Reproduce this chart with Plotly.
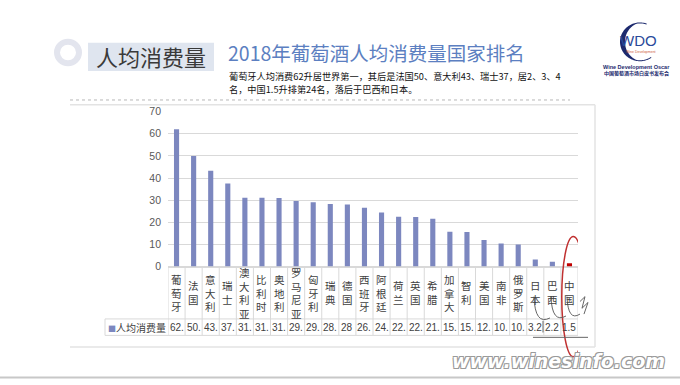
import numpy as np
import plotly.graph_objects as go

# ---------------- data ----------------
countries = ["葡萄牙", "法国", "意大利", "瑞士", "澳大利亚", "比利时", "奥地利", "罗马尼亚",
             "匈牙利", "瑞典", "德国", "西班牙", "阿根廷", "荷兰", "英国", "希腊",
             "加拿大", "智利", "美国", "南非", "俄罗斯", "日本", "巴西", "中国"]
consumption = [62.0, 50.0, 43.3, 37.5, 31.1, 31.1, 31.0, 29.6, 29.1, 28.3, 28.0, 26.6,
               24.4, 22.5, 22.4, 21.6, 15.7, 15.6, 12.0, 10.4, 10.0, 3.2, 2.2, 1.5]
table_labels = ["62.", "50.", "43.", "37.", "31.", "31.", "31.", "29.", "29.", "28.", "28", "26.",
                "24.", "22.", "22.", "21.", "15.", "15.", "12.", "10.", "10.", "3.2", "2.2", "1.5"]
y_ticks = [0, 10, 20, 30, 40, 50, 60, 70]
series_name = "人均消费量"
highlight = "中国"
title_tag = "人均消费量"
title_text = "2018年葡萄酒人均消费量国家排名"
subtitle_lines = ["葡萄牙人均消费62升居世界第一，其后是法国50、意大利43、瑞士37，居2、3、4",
                  "名，中国1.5升排第24名，落后于巴西和日本。"]

# ---------------- helpers ----------------
W, H = 680, 385
CJK = "Noto Sans CJK SC"
LAT = "Liberation Sans"
BAR = "#7C87BF"
GRID = "#d9d9d9"


def px(x):
    return x / W


def py(y):
    return 1 - y / H


def note(x, y, text, size, color, family=CJK, xanchor="center", yanchor="middle", **kw):
    return dict(x=px(x), y=py(y), xref="paper", yref="paper", showarrow=False, text=text,
                xanchor=xanchor, yanchor=yanchor,
                font=dict(family=family, size=size, color=color, **kw))


fig = go.Figure()
fig.add_trace(go.Bar(
    x=countries, y=consumption, name=series_name, width=0.3,
    marker=dict(color=["#C00000" if c == highlight else BAR for c in countries], line=dict(width=0)),
    hoverinfo="x+y",
))

shapes = []
annotations = []

# category labels (vertical stacked characters) and data-table values
for i, c in enumerate(countries):
    annotations.append(dict(x=c, xref="x", y=py(296), yref="paper", text="<br>".join(c),
                            showarrow=False, yanchor="middle", xanchor="center",
                            font=dict(family=CJK, size=10.5, color="#404040")))
    annotations.append(dict(x=c, xref="x", y=py(331.5), yref="paper", text=table_labels[i],
                            showarrow=False, yanchor="middle", xanchor="center",
                            font=dict(family=LAT, size=10, color="#404040")))

# data-table grid
for i in range(len(countries) + 1):
    shapes.append(dict(type="line", xref="x", yref="paper", x0=i - 0.5, x1=i - 0.5,
                       y0=py(269), y1=py(340), line=dict(color=GRID, width=1)))
for yy in (323, 340):
    shapes.append(dict(type="line", xref="paper", yref="paper", x0=px(105), x1=px(578),
                       y0=py(yy), y1=py(yy), line=dict(color=GRID, width=1)))
shapes.append(dict(type="line", xref="paper", yref="paper", x0=px(105), x1=px(105),
                   y0=py(323), y1=py(340), line=dict(color=GRID, width=1)))
annotations.append(note(106, 331.5, f"<span style='color:{BAR};font-size:8px'>■</span>{series_name}",
                        10, "#404040", xanchor="left"))

# chart frame
for (x0, y0, x1, y1) in [(70, 102, 595, 102), (595, 102, 595, 352), (70, 352, 595, 352)]:
    shapes.append(dict(type="line", xref="paper", yref="paper", x0=px(x0), x1=px(x1),
                       y0=py(y0), y1=py(y1), line=dict(color="#e3e3e3", width=1.5)))
# slide bottom edge
shapes.append(dict(type="line", xref="paper", yref="paper", x0=0, x1=1, y0=py(383.5), y1=py(383.5),
                   line=dict(color="#c8c8c8", width=2)))
# dotted separator
shapes.append(dict(type="line", xref="paper", yref="paper", x0=px(70), x1=px(570),
                   y0=py(97), y1=py(97), line=dict(color="#b8b8b8", width=1, dash="dot")))

# ring ornament + tag box
shapes.append(dict(type="circle", xref="paper", yref="paper", x0=px(57), x1=px(79),
                   y0=py(59), y1=py(37), line=dict(color="#e3e5ee", width=6)))
shapes.append(dict(type="rect", xref="paper", yref="paper", x0=px(88), x1=px(214),
                   y0=py(67), y1=py(38), fillcolor="#dfe5ef", line=dict(width=0)))
annotations.append(note(151, 52, title_tag, 22, "#3a3a3a"))
annotations.append(note(226, 48, title_text, 19.5, "#5C7FC1", xanchor="left"))
annotations.append(note(227, 72, subtitle_lines[0], 9.2, "#111111", xanchor="left"))
annotations.append(note(227, 85.5, subtitle_lines[1], 9.2, "#111111", xanchor="left"))

# WDO logo (decorative)
cx, cy = 640, 37
ang = np.linspace(np.deg2rad(70), np.deg2rad(305), 80)
outer = [(cx + 20 * np.cos(a), cy - 20 * np.sin(a)) for a in ang]
inner_r = 20 - 5.0 * np.clip(-np.cos(ang), 0.2, 1)
inner = [(cx + r * np.cos(a), cy - r * np.sin(a)) for a, r in zip(ang[::-1], inner_r[::-1])]
pts = outer + inner
path = "M " + " L ".join(f"{px(x):.5f},{py(y):.5f}" for x, y in pts) + " Z"
shapes.append(dict(type="path", xref="paper", yref="paper", path=path,
                   fillcolor="#1d2a6e", line=dict(width=0)))
annotations.append(note(638, 35.5, "WDO", 15, "#2a4a9a", family=LAT))
annotations.append(note(641, 47.5, "Wine Development", 3.5, "#d0603a", family=LAT))
annotations.append(note(636, 63, "<b>Wine Development Oscar</b>", 5.5, "#1d2a6e", family=LAT))
annotations.append(note(636, 69.5, "<b>中国葡萄酒市场白皮书发布会</b>", 5, "#1d2a6e"))

# red ellipse highlighting China
ci = countries.index(highlight)
shapes.append(dict(type="circle", xref="x", yref="paper", x0=ci - 0.45, x1=ci + 0.9,
                   y0=py(362), y1=py(238), line=dict(color="#c03030", width=1.5)))

# hand-drawn marks
scrib = ["M 534,300 Q 535,330 550,322", "M 551,300 Q 552,328 566,320",
         "M 567,300 Q 568,326 580,318", "M 580,305 L 585,300 L 582,312 L 588,306 L 584,318",
         "M 533,342 L 588,342", "M 543,325 L 543,337"]
for s in scrib:
    out = []
    for t in s.split():
        if "," in t:
            a, b = t.split(",")
            out.append(f"{px(float(a)):.5f},{py(float(b)):.5f}")
        else:
            out.append(t)
    shapes.append(dict(type="path", xref="paper", yref="paper", path=" ".join(out),
                       line=dict(color="#666666", width=1)))

# watermark
annotations.append(note(667, 366, "<b><i>www.winesinfo.com</i></b>", 19, "white",
                        family="DejaVu Sans", xanchor="right",
                        shadow="-1px -1px 0 #9a9a9a, 1px -1px 0 #9a9a9a, -1px 1px 0 #9a9a9a, 1px 1px 0 #9a9a9a"))

fig.update_layout(
    width=W, height=H, margin=dict(l=0, r=0, t=0, b=0),
    paper_bgcolor="white", plot_bgcolor="white", showlegend=False,
    xaxis=dict(type="category", domain=[px(168), px(578)], range=[-0.5, len(countries) - 0.5],
               showticklabels=False, showgrid=False, showline=False, zeroline=False, ticks=""),
    yaxis=dict(domain=[py(269), py(109)], range=[0, 70], tickvals=y_ticks, showgrid=True,
               gridcolor=GRID, gridwidth=1, zeroline=True, zerolinecolor=GRID, showline=False,
               ticks="", ticklabelstandoff=6,
               tickfont=dict(family=LAT, size=10.5, color="#595959")),
    shapes=shapes, annotations=annotations,
)
fig.write_html("out.html", config={"displayModeBar": False},
               post_script="document.body.style.margin='0';document.body.style.overflow='hidden';")
